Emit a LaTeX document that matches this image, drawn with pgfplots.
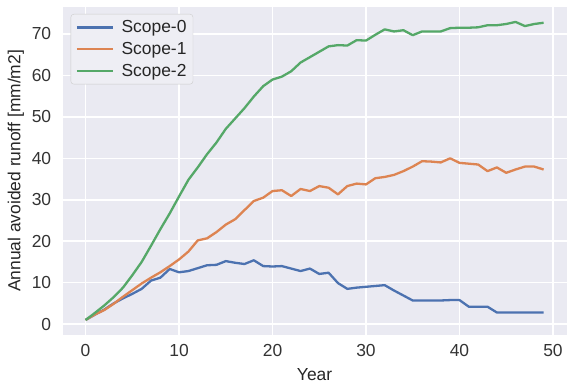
\documentclass[border=0pt]{standalone}
\usepackage{pgfplots}
\pgfplotsset{compat=1.18}
\usepackage{pgfplotstable}
\usepackage{fontspec}
\setmainfont{Liberation Sans}

\definecolor{sbblue}{HTML}{4C72B0}
\definecolor{sborange}{HTML}{DD8452}
\definecolor{sbgreen}{HTML}{55A868}
\definecolor{sbbg}{HTML}{EAEAF2}
\definecolor{sblegend}{HTML}{EEEEF4}

% Annual avoided runoff per scope, years 0..49
\pgfplotstableread{
year s0 s1 s2
0 1.0 1.0 1.0
1 2.3 2.3 2.7
2 3.5 3.4 4.5
3 5.0 4.9 6.5
4 6.2 6.6 8.8
5 7.3 8.2 11.8
6 8.5 9.8 15.0
7 10.5 11.2 18.9
8 11.2 12.5 22.9
9 13.3 14.0 26.7
10 12.5 15.6 30.8
11 12.8 17.5 34.8
12 13.5 20.2 37.8
13 14.2 20.7 41.0
14 14.3 22.2 43.8
15 15.2 24.0 47.1
16 14.8 25.3 49.6
17 14.5 27.5 52.1
18 15.4 29.7 54.9
19 14.0 30.5 57.4
20 13.9 32.1 59.0
21 14.0 32.3 59.7
22 13.4 30.9 61.0
23 12.8 32.6 63.1
24 13.4 32.1 64.4
25 12.1 33.3 65.7
26 12.4 32.9 67.0
27 9.9 31.3 67.3
28 8.5 33.3 67.2
29 8.8 33.9 68.5
30 9.0 33.7 68.4
31 9.2 35.2 69.8
32 9.4 35.5 71.1
33 8.1 36.0 70.6
34 6.9 36.9 70.9
35 5.7 38.0 69.7
36 5.7 39.3 70.6
37 5.7 39.2 70.6
38 5.7 39.0 70.6
39 5.8 40.0 71.4
40 5.8 38.9 71.5
41 4.2 38.7 71.5
42 4.2 38.5 71.6
43 4.2 36.9 72.1
44 2.8 37.8 72.1
45 2.8 36.5 72.4
46 2.8 37.3 72.9
47 2.8 38.0 71.9
48 2.8 38.0 72.4
49 2.8 37.3 72.7
}\runoff

\begin{document}
\begin{tikzpicture}
\begin{axis}[
  scale only axis,
  width=504bp, height=328bp,
  xmin=-2.45, xmax=51.45,
  ymin=-2.6, ymax=76.5,
  xtick={0,10,...,50},
  ytick={0,10,...,70},
  axis background/.style={fill=sbbg},
  axis line style={draw=none},
  major tick length=0pt,
  grid=major,
  major grid style={white, line width=1.6bp},
  /pgf/number format/assume math mode=true,
  tick label style={font=\fontsize{17.5}{20}\selectfont, text=black!80},
  xticklabel style={yshift=-6bp},
  yticklabel style={xshift=-8bp},
  label style={font=\fontsize{17.5}{20}\selectfont, text=black!85},
  xlabel={Year},
  ylabel={Annual avoided runoff [mm/m2]},
  xlabel style={yshift=-5bp},
  ylabel style={yshift=1bp},
  legend cell align=left,
  legend style={
    at={([xshift=8bp,yshift=-7bp]rel axis cs:0,1)}, anchor=north west,
    fill=sblegend, draw=black!20, rounded corners=3bp,
    font=\fontsize{17.5}{20}\selectfont,
    inner xsep=5bp, inner ysep=5bp,
    row sep=5bp,
    nodes={inner sep=1.5bp, text=black!85},
  },
  legend image code/.code={\draw[#1, line width=2.2bp] (0bp,0bp) -- (36bp,0bp);},
  every axis plot/.append style={line width=2.3bp, line join=round},
]
\addplot[sbblue] table[x=year, y=s0] {\runoff};
\addlegendentry{\hspace{6bp}Scope-0}
\addplot[sborange] table[x=year, y=s1] {\runoff};
\addlegendentry{\hspace{6bp}Scope-1}
\addplot[sbgreen] table[x=year, y=s2] {\runoff};
\addlegendentry{\hspace{6bp}Scope-2}
\end{axis}
\pgfresetboundingbox
\path[use as bounding box] ([shift={(-62.7bp,-54bp)}]current axis.south west)
  rectangle ([shift={(0.5bp,7bp)}]current axis.north east);
\end{tikzpicture}
\end{document}
